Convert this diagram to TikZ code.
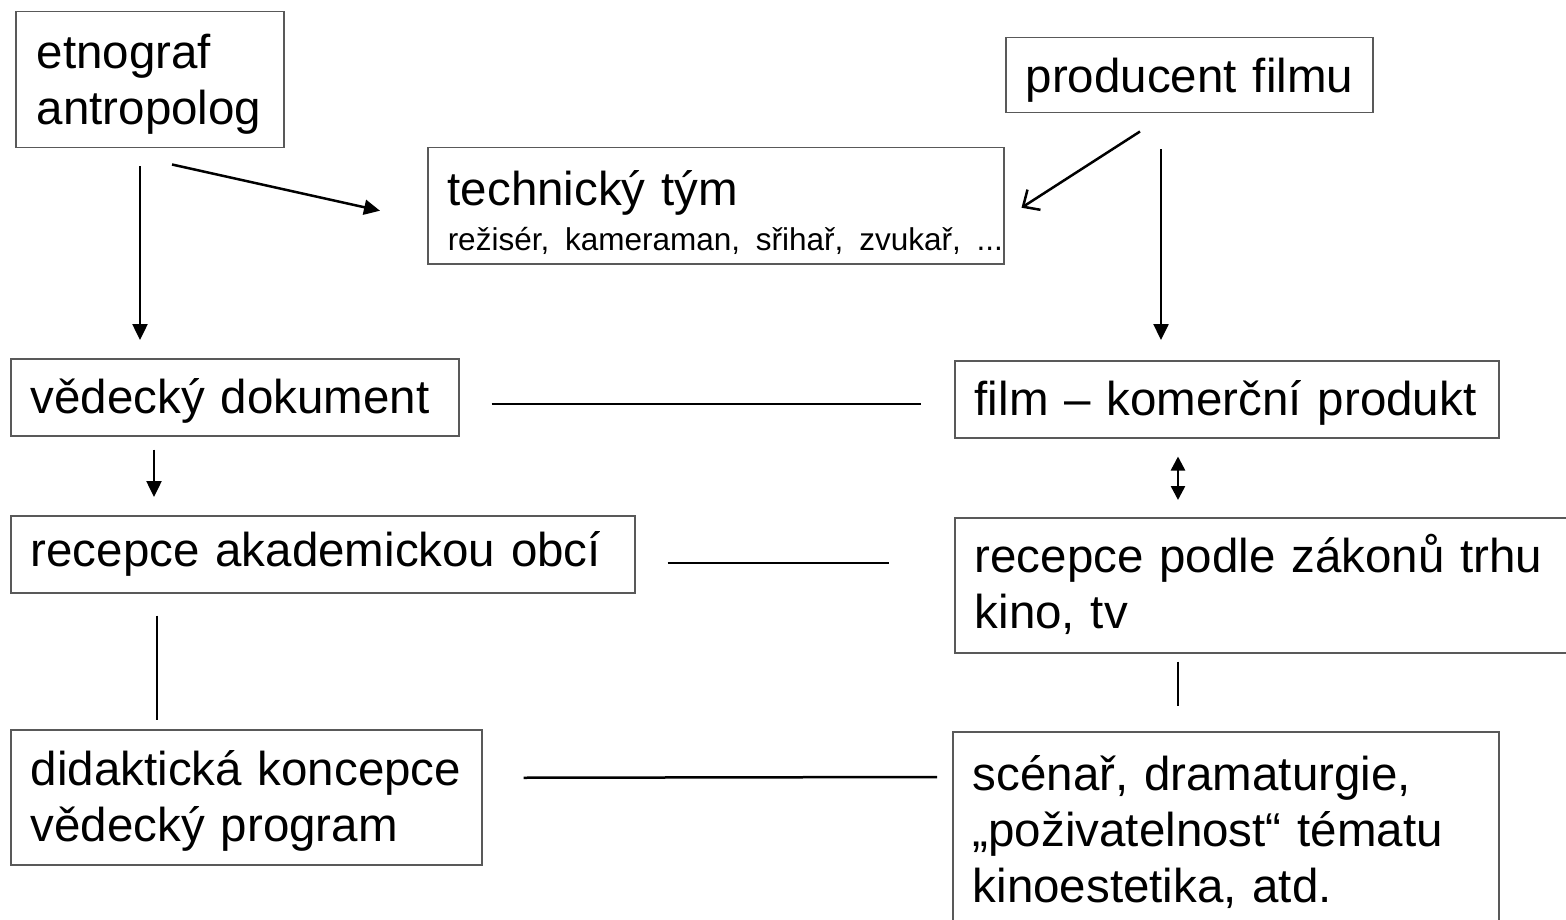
\documentclass[tikz,border=0pt]{standalone}
\usepackage{fontspec}
\setmainfont{Liberation Sans}
\usetikzlibrary{arrows.meta}

\begin{document}
\begin{tikzpicture}[x=1pt,y=-1pt]
    % `box' is used for every text block, `link' for the plain lines.
    % `arrow' and `twoway' add the filled heads, `barb' the open one.
    \tikzstyle{box} = [draw=black!65,line width=1.5pt,fill=white,anchor=north west,align=left,inner xsep=20pt,inner ysep=0pt,font=\fontsize{47.5}{56}\selectfont]
    \tikzstyle{link} = [line width=2.5pt]
    \tikzstyle{arrow} = [link,-{Triangle[length=16pt,width=15pt]}]
    \tikzstyle{twoway} = [link,{Triangle[length=14pt,width=14pt]}-{Triangle[length=14pt,width=14pt]}]
    \tikzstyle{barb} = [link,-{Straight Barb[length=13pt,width=24pt,line width=2.5pt]}]
    %
    \useasboundingbox (0,0) rectangle (1566,920);
    % left column
    \node[box,inner xsep=21pt,text width=226pt,text height=57pt,text depth=79pt] (etno) at (15,11) {\mbox{etnograf}\\\mbox{antropolog}};
    \node[box,text width=408pt,text height=55pt,text depth=22pt] (vd) at (10,358) {\mbox{vědecký dokument}};
    \node[box,text width=584pt,text height=51pt,text depth=26pt] (reca) at (10,515) {\mbox{recepce akademickou obcí}};
    \node[box,text width=431pt,text height=56pt,text depth=79pt] (did) at (10,729) {\mbox{didaktická koncepce}\\\mbox{vědecký program}};
    % middle and right column
    \node[box,text width=536pt,text height=58pt,text depth=58pt] (tech) at (427,147) {\mbox{technický tým}\\[-11pt]{\fontsize{31.5}{38}\selectfont\mbox{režisér, kameraman, sřihař, zvukař, ...}}};
    \node[box,text width=327pt,text height=55pt,text depth=20pt] (prod) at (1005,37) {\mbox{producent filmu}};
    \node[box,text width=504pt,text height=55pt,text depth=22pt] (film) at (954,360) {\mbox{film – komerční produkt}};
    \node[box,text width=580pt,text height=55pt,text depth=80pt] (recp) at (954,517) {\mbox{recepce podle zákonů trhu}\\\mbox{kino, tv}};
    \node[box,text width=506pt,text height=59pt,text depth=200pt] (scen) at (952,731) {\mbox{scénař, dramaturgie,}\\\mbox{„poživatelnost“ tématu}\\\mbox{kinoestetika, atd.}};
    %
    % arrows
    \draw[arrow] ([xshift=125pt,yshift=-18pt]etno.south west) -- ([xshift=130pt,yshift=18pt]vd.north west);
    \draw[arrow] ([xshift=157pt,yshift=-16pt]etno.south west) -- ([xshift=-47pt,yshift=-5pt]tech.west);
    \draw[barb] ([xshift=135pt,yshift=-18pt]prod.south west) -- ([xshift=17pt,yshift=-2pt]tech.east);
    \draw[arrow] ([xshift=156pt,yshift=-36pt]prod.south west) -- ([xshift=207pt,yshift=20pt]film.north west);
    \draw[arrow] ([xshift=144pt,yshift=-13pt]vd.south west) -- ([xshift=144pt,yshift=18pt]reca.north west);
    \draw[twoway] ([xshift=224pt,yshift=-18pt]film.south west) -- ([xshift=224pt,yshift=17pt]recp.north west);
    % plain lines
    \draw[link] ([xshift=32pt,yshift=-6.5pt]vd.east) -- ([xshift=-33pt,yshift=-4.5pt]film.west);
    \draw[link] ([xshift=32pt,yshift=-8.5pt]reca.east) -- ([xshift=-65pt,yshift=22.5pt]recp.west);
    \draw[link] ([xshift=147pt,yshift=-22pt]reca.south west) -- ([xshift=147pt,yshift=9pt]did.north west);
    \draw[link] ([xshift=224pt,yshift=-8pt]recp.south west) -- ([xshift=226pt,yshift=25pt]scen.north west);
    \draw[link] ([xshift=41pt,yshift=19.5pt]did.east) -- ([xshift=-15pt,yshift=-46pt]scen.north west);
\end{tikzpicture}
\end{document}
